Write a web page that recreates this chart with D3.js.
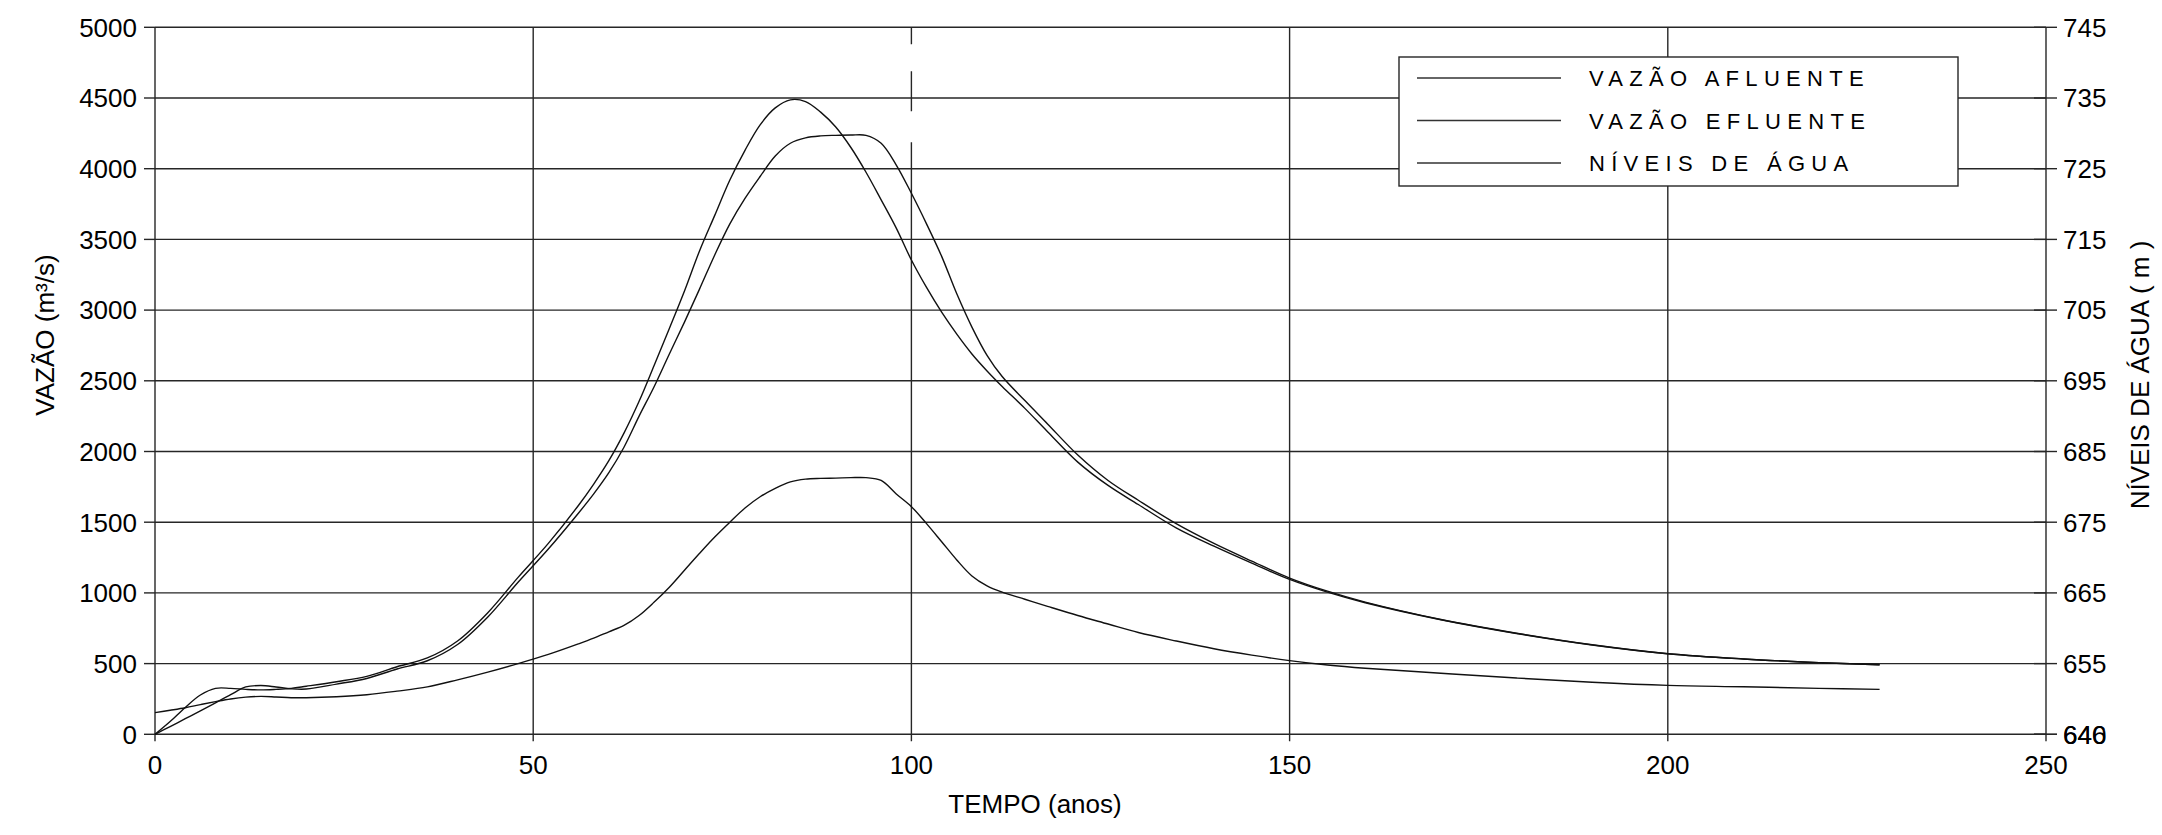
<!DOCTYPE html>
<html><head><meta charset="utf-8">
<script src="https://cdn.jsdelivr.net/npm/d3@7"></script>
<style>
body{margin:0;background:#fff}
text{font-family:"Liberation Sans",Arial,Helvetica,sans-serif;fill:#000}
</style>
</head><body>
<svg id="c" width="2162" height="835"></svg>
<script>
// ---- data ----
const tempo = [0,2,4,6,8,10,12,14,16,18,20,24,28,32,36,40,44,48,52,56,58,60,62,64,66,68,70,72,74,76,78,80,82,84,86,88,90,92,94,96,98,100,102,104,106,108,110,112,115,118,122,126,130,135,140,145,150,155,160,170,180,190,200,210,220,228];
const vazaoAfluente = [0,90,190,278,325,325,318,314,318,325,340,372,410,478,540,660,860,1110,1350,1620,1770,1935,2130,2355,2610,2870,3135,3420,3670,3920,4130,4310,4430,4487,4475,4400,4295,4150,3975,3780,3580,3354,3160,2985,2830,2690,2570,2460,2305,2140,1925,1760,1625,1460,1330,1210,1095,1005,930,810,713,632,570,533,507,492];
const vazaoEfluente = [0,55,110,165,222,280,335,345,335,322,320,355,395,462,520,635,830,1075,1310,1565,1700,1850,2030,2250,2460,2690,2915,3150,3390,3610,3790,3945,4090,4180,4218,4232,4236,4238,4236,4180,4026,3826,3610,3380,3115,2880,2680,2530,2360,2195,1975,1795,1655,1490,1350,1225,1105,1012,935,812,715,633,570,533,507,492];
const niveisAgua = [648.06,648.40,648.76,649.20,649.62,650.00,650.26,650.36,650.28,650.18,650.18,650.32,650.60,651.10,651.70,652.70,653.80,655.00,656.30,657.80,658.60,659.50,660.40,661.80,663.70,665.80,668.20,670.60,672.90,675.00,677.00,678.60,679.80,680.70,681.10,681.20,681.24,681.30,681.30,680.90,679.00,677.20,674.80,672.24,669.66,667.40,666.00,665.10,664.10,663.10,661.80,660.60,659.40,658.20,657.10,656.20,655.42,654.80,654.34,653.64,652.96,652.36,651.92,651.72,651.50,651.36];

const xTicks = [0,50,100,150,200,250];
const xTickLabels = ["0","50","100","150","200","250"];
const yTicks = [0,500,1000,1500,2000,2500,3000,3500,4000,4500,5000];
const yTickLabels = ["0","500","1000","1500","2000","2500","3000","3500","4000","4500","5000"];
const rightTicks = [645,645,655,665,675,685,695,705,715,725,735,745];
const rightTickLabels = ["640","646","655","665","675","685","695","705","715","725","735","745"];
const legendLabels = ["VAZÃO AFLUENTE","VAZÃO EFLUENTE","NÍVEIS DE ÁGUA"];
const xTitle = "TEMPO (anos)";
const yTitle = "VAZÃO (m³/s)";
const yRightTitle = "NÍVEIS DE ÁGUA ( m )";

// ---- layout ----
const L = 155, R = 2046, B = 734.3, T = 27.3;
const svg = d3.select("#c");
const x = d3.scaleLinear().domain([0,250]).range([L,R]);
const y = d3.scaleLinear().domain([0,5000]).range([B,T]);
const yR = d3.scaleLinear().domain([645,745]).range([B,T]);
const gridColor = "#262626";
const FS = 26;

// horizontal gridlines
svg.append("g").selectAll("line").data(yTicks).join("line")
  .attr("x1",L).attr("x2",R).attr("y1",d=>y(d)).attr("y2",d=>y(d))
  .attr("stroke",gridColor).attr("stroke-width",1.4);

// vertical gridlines (extend below as ticks)
svg.append("g").selectAll("line").data(xTicks).join("line")
  .attr("x1",d=>x(d)).attr("x2",d=>x(d)).attr("y1",T).attr("y2",B+7)
  .attr("stroke",gridColor).attr("stroke-width",1.4)
  .attr("stroke-dasharray",d=>d===100?"17,27,40,31,3000":null);

// left ticks
svg.append("g").selectAll("line").data(yTicks).join("line")
  .attr("x1",L-11).attr("x2",L).attr("y1",d=>y(d)).attr("y2",d=>y(d))
  .attr("stroke",gridColor).attr("stroke-width",1.4);
svg.append("g").selectAll("text").data(yTicks).join("text")
  .attr("x",137).attr("y",d=>y(d)).attr("dy","0.36em")
  .attr("text-anchor","end").attr("font-size",FS)
  .text((d,i)=>yTickLabels[i]);

// right ticks
svg.append("g").selectAll("line").data(rightTicks).join("line")
  .attr("x1",R-12).attr("x2",R+11).attr("y1",d=>yR(d)).attr("y2",d=>yR(d))
  .attr("stroke",gridColor).attr("stroke-width",1.4);
svg.append("g").selectAll("text").data(rightTicks).join("text")
  .attr("x",2063).attr("y",d=>yR(d)).attr("dy","0.36em")
  .attr("text-anchor","start").attr("font-size",FS)
  .text((d,i)=>rightTickLabels[i]);

// x tick labels
svg.append("g").selectAll("text").data(xTicks).join("text")
  .attr("x",d=>x(d)).attr("y",774)
  .attr("text-anchor","middle").attr("font-size",FS)
  .text((d,i)=>xTickLabels[i]);

// titles
svg.append("text").attr("x",1035).attr("y",813).attr("text-anchor","middle")
  .attr("font-size",FS).text(xTitle);
svg.append("text").attr("transform","translate(54,335) rotate(-90)")
  .attr("text-anchor","middle").attr("font-size",FS).text(yTitle);
svg.append("text").attr("transform","translate(2149,375) rotate(-90)")
  .attr("text-anchor","middle").attr("font-size",FS).text(yRightTitle);

// curves
const lineQ = d3.line().x((d,i)=>x(tempo[i])).y(d=>y(d)).curve(d3.curveCatmullRom.alpha(0.5));
const lineN = d3.line().x((d,i)=>x(tempo[i])).y(d=>yR(d)).curve(d3.curveCatmullRom.alpha(0.5));
const curves = svg.append("g").attr("fill","none").attr("stroke","#111").attr("stroke-width",1.4);
curves.append("path").attr("d",lineQ(vazaoAfluente));
curves.append("path").attr("d",lineQ(vazaoEfluente));
curves.append("path").attr("d",lineN(niveisAgua));

// legend
const lg = svg.append("g");
lg.append("rect").attr("x",1399).attr("y",57).attr("width",559).attr("height",129)
  .attr("fill","#fff").attr("stroke",gridColor).attr("stroke-width",1.4);
const rows = lg.selectAll("g.row").data(legendLabels).join("g").attr("class","row")
  .attr("transform",(d,i)=>`translate(0,${78+i*42.5})`);
rows.append("line").attr("x1",1417).attr("x2",1561).attr("y1",0).attr("y2",0)
  .attr("stroke","#333").attr("stroke-width",1.4);
rows.append("text").attr("x",1589).attr("y",8).attr("font-size",22)
  .attr("letter-spacing","6.3px").text(d=>d);
</script>
</body></html>
